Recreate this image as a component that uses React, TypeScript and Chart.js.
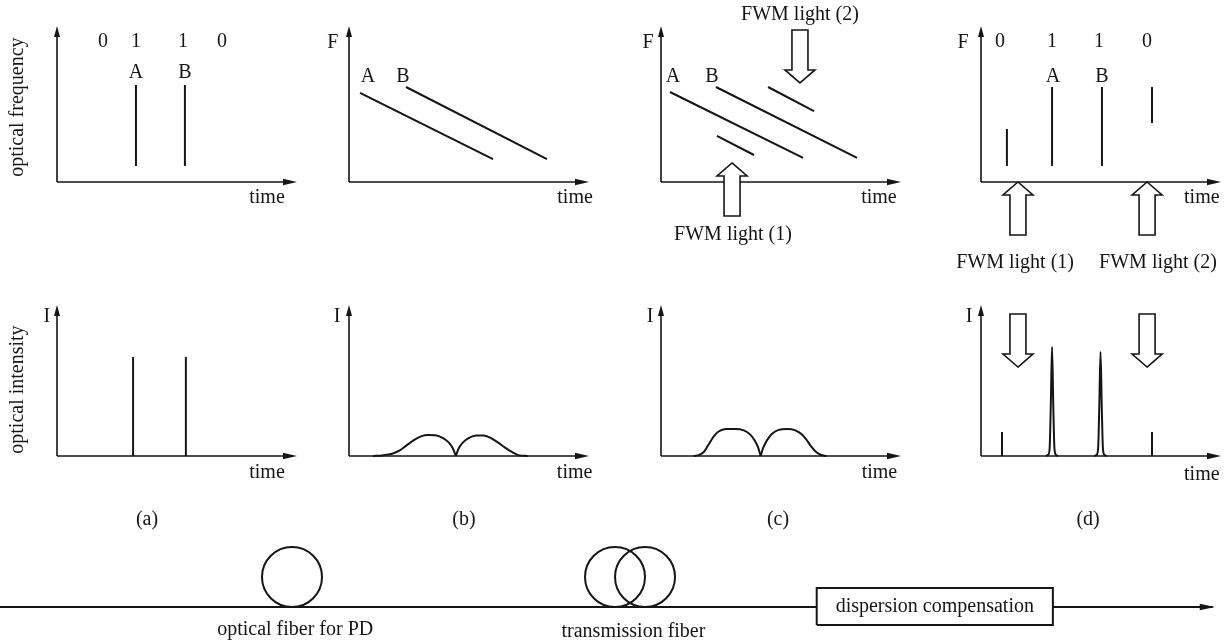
import React, { useEffect, useRef } from "react";
import { Chart, registerables } from "chart.js";
Chart.register(...registerables);

type Pt = { x: number; y: number };
type Seg = Pt[];

// ---------------- DATA (time 0..100, value 0..100 in each panel) ----------------
const BITS = ["0", "1", "1", "0"];
const PULSES = ["A", "B"];
const FWM_NAMES = ["FWM light (1)", "FWM light (2)"];
const AXIS_TIME = "time";
const AXIS_F = "F";
const AXIS_I = "I";
const ROW_TITLES = ["optical frequency", "optical intensity"];
const PANEL_TAGS = ["(a)", "(b)", "(c)", "(d)"];
const STAGES = ["optical fiber for PD", "transmission fiber", "dispersion compensation"];

// (a) input pulses
const FREQ_A: Seg[] = [
  [{ x: 32.9, y: 10.3 }, { x: 32.9, y: 62.2 }],
  [{ x: 53.3, y: 10.3 }, { x: 53.3, y: 62.2 }],
];
const INT_A: Seg[] = [
  [{ x: 31.7, y: 0 }, { x: 31.7, y: 65.6 }],
  [{ x: 53.7, y: 0 }, { x: 53.7, y: 65.6 }],
];
// (b) chirped pulses after PD fiber
const FREQ_B: Seg[] = [
  [{ x: 4.6, y: 57.1 }, { x: 60, y: 14.7 }],
  [{ x: 23.75, y: 60.9 }, { x: 82.5, y: 14.7 }],
];
const INT_B_LEFT: Seg = [
  { x: 10, y: 0 }, { x: 14, y: 0.4 }, { x: 18, y: 1.5 }, { x: 21, y: 3.5 }, { x: 24, y: 7 },
  { x: 27, y: 10.5 }, { x: 30, y: 13 }, { x: 33, y: 13.9 }, { x: 36, y: 13.7 }, { x: 39, y: 12 },
  { x: 41.5, y: 9 }, { x: 43.3, y: 5 }, { x: 44.5, y: 0 },
];
const INT_B_RIGHT: Seg = [
  { x: 44.5, y: 0 }, { x: 45.7, y: 5 }, { x: 47.5, y: 9 }, { x: 50, y: 12 }, { x: 53, y: 13.6 },
  { x: 56, y: 13.6 }, { x: 59, y: 12 }, { x: 62, y: 9 }, { x: 65, y: 5.5 }, { x: 68, y: 2.5 },
  { x: 70.5, y: 0.6 }, { x: 74.5, y: 0 },
];
// (c) after transmission fiber, with FWM light
const FREQ_C: Seg[] = [
  [{ x: 3.75, y: 57.7 }, { x: 59.2, y: 15.4 }],
  [{ x: 22.9, y: 60.9 }, { x: 81.7, y: 15.4 }],
];
const FREQ_C_FWM: Seg[] = [
  [{ x: 23.3, y: 29.5 }, { x: 38.75, y: 17.3 }],
  [{ x: 44.6, y: 60.9 }, { x: 63.75, y: 45.5 }],
];
const INT_C_LEFT: Seg = [
  { x: 13.5, y: 0 }, { x: 16, y: 0.8 }, { x: 18, y: 3 }, { x: 20, y: 8 }, { x: 22, y: 13 },
  { x: 24, y: 16.2 }, { x: 27, y: 17.8 }, { x: 31, y: 17.9 }, { x: 34.5, y: 17 }, { x: 37, y: 14.5 },
  { x: 39, y: 10.5 }, { x: 40.5, y: 5.5 }, { x: 41.5, y: 0 },
];
const INT_C_RIGHT: Seg = [
  { x: 41.5, y: 0 }, { x: 42.6, y: 5.5 }, { x: 44.2, y: 10.5 }, { x: 46.3, y: 14.8 }, { x: 49, y: 17.3 },
  { x: 52.5, y: 17.9 }, { x: 56, y: 17 }, { x: 58.5, y: 14.5 }, { x: 60.5, y: 11 }, { x: 62.5, y: 6.5 },
  { x: 64.5, y: 2.8 }, { x: 66.5, y: 0.8 }, { x: 69, y: 0 },
];
// (d) after dispersion compensation
const FREQ_D: Seg[] = [
  [{ x: 29.6, y: 10.3 }, { x: 29.6, y: 60.9 }],
  [{ x: 50.4, y: 10.3 }, { x: 50.4, y: 60.9 }],
];
const FREQ_D_FWM: Seg[] = [
  [{ x: 10.8, y: 10.3 }, { x: 10.8, y: 34 }],
  [{ x: 71.25, y: 37.8 }, { x: 71.25, y: 60.9 }],
];
const INT_D_PEAKS: Seg[] = [
  [
    { x: 27, y: 0 }, { x: 28, y: 0.8 }, { x: 28.6, y: 5 }, { x: 29.1, y: 35 }, { x: 29.6, y: 72.2 },
    { x: 30.1, y: 35 }, { x: 30.6, y: 5 }, { x: 31.2, y: 0.8 }, { x: 32.2, y: 0 },
  ],
  [
    { x: 47.2, y: 0 }, { x: 48.2, y: 0.8 }, { x: 48.8, y: 5 }, { x: 49.3, y: 34 }, { x: 49.8, y: 68.9 },
    { x: 50.3, y: 34 }, { x: 50.8, y: 5 }, { x: 51.4, y: 0.8 }, { x: 52.4, y: 0 },
  ],
];
const INT_D_FWM: Seg[] = [
  [{ x: 8.75, y: 0 }, { x: 8.75, y: 15.9 }],
  [{ x: 71.25, y: 0 }, { x: 71.25, y: 15.9 }],
];
// bottom fiber line (x 0..100 along the link, y = px above the line)
const FIBER_IN: Seg = [{ x: 0, y: 0 }, { x: 66.4, y: 0 }];
const FIBER_OUT: Seg = [{ x: 85.6, y: 0 }, { x: 98.6, y: 0 }];
const PD_COIL: Seg = [{ x: 23.74, y: 30 }];
const TX_COILS: Seg = [{ x: 50, y: 30 }, { x: 52.44, y: 30 }];
const DCF_BOX: Seg = [
  { x: 66.4, y: -18 }, { x: 85.6, y: -18 }, { x: 85.6, y: 19 }, { x: 66.4, y: 19 }, { x: 66.4, y: -18 },
];

// ---------------- LAYOUT ----------------
const INK = "#151515";
const FONT = '20px "Liberation Serif", "Times New Roman", serif';
const COLS = [
  { left: 0, w: 320, ox: 57 },
  { left: 320, w: 310, ox: 349 },
  { left: 630, w: 310, ox: 661 },
  { left: 940, w: 290, ox: 981 },
];
const ROWS = [
  { top: 0, h: 290, oy: 182, axisH: 156 },
  { top: 290, h: 250, oy: 456, axisH: 151 },
];
const AXIS_W = 240;

interface Txt { t: string; x: number; y: number; rot?: boolean }
interface HArrow { x: number; tip: number; up: boolean }
interface PanelSpec { col: number; row: number; lines: Seg[]; curves: Seg[]; texts: Txt[]; arrows: HArrow[] }

const PANELS: PanelSpec[] = [
  {
    col: 0, row: 0, lines: FREQ_A, curves: [], arrows: [],
    texts: [
      { t: BITS[0], x: 19.2, y: 89.7 }, { t: BITS[1], x: 32.9, y: 89.7 },
      { t: BITS[2], x: 52.5, y: 89.7 }, { t: BITS[3], x: 68.75, y: 89.7 },
      { t: PULSES[0], x: 32.9, y: 69.9 }, { t: PULSES[1], x: 53.3, y: 69.9 },
      { t: AXIS_TIME, x: 87.5, y: -10.3 },
      { t: ROW_TITLES[0], x: -16.25, y: 48, rot: true },
    ],
  },
  {
    col: 1, row: 0, lines: FREQ_B, curves: [], arrows: [],
    texts: [
      { t: AXIS_F, x: -6.7, y: 89.1 },
      { t: PULSES[0], x: 7.9, y: 67.3 }, { t: PULSES[1], x: 22.5, y: 67.3 },
      { t: AXIS_TIME, x: 94.2, y: -10.3 },
    ],
  },
  {
    col: 2, row: 0, lines: [...FREQ_C, ...FREQ_C_FWM], curves: [],
    arrows: [{ x: 29.6, tip: 12.2, up: true }, { x: 57.9, tip: 63.5, up: false }],
    texts: [
      { t: AXIS_F, x: -5.4, y: 89.1 },
      { t: PULSES[0], x: 5, y: 67.3 }, { t: PULSES[1], x: 21.25, y: 67.3 },
      { t: AXIS_TIME, x: 90.8, y: -10.3 },
      { t: FWM_NAMES[0], x: 30, y: -34 }, { t: FWM_NAMES[1], x: 57.9, y: 107 },
    ],
  },
  {
    col: 3, row: 0, lines: [...FREQ_D, ...FREQ_D_FWM], curves: [],
    arrows: [{ x: 15.4, tip: 0, up: true }, { x: 69.2, tip: 0, up: true }],
    texts: [
      { t: AXIS_F, x: -7.5, y: 89.1 },
      { t: BITS[0], x: 7.9, y: 89.7 }, { t: BITS[1], x: 29.6, y: 89.7 },
      { t: BITS[2], x: 49.2, y: 89.7 }, { t: BITS[3], x: 69.2, y: 89.7 },
      { t: PULSES[0], x: 30, y: 67.3 }, { t: PULSES[1], x: 50.4, y: 67.3 },
      { t: AXIS_TIME, x: 92, y: -10.3 },
      { t: FWM_NAMES[0], x: 14.2, y: -52 }, { t: FWM_NAMES[1], x: 73.75, y: -52 },
    ],
  },
  {
    col: 0, row: 1, lines: INT_A, curves: [], arrows: [],
    texts: [
      { t: AXIS_I, x: -4.2, y: 92 }, { t: AXIS_TIME, x: 87.5, y: -11.3 },
      { t: PANEL_TAGS[0], x: 37.5, y: -42.4 },
      { t: ROW_TITLES[1], x: -16.25, y: 44, rot: true },
    ],
  },
  {
    col: 1, row: 1, lines: [], curves: [INT_B_LEFT, INT_B_RIGHT], arrows: [],
    texts: [
      { t: AXIS_I, x: -5, y: 92 }, { t: AXIS_TIME, x: 94, y: -11.3 },
      { t: PANEL_TAGS[1], x: 47.9, y: -42.4 },
    ],
  },
  {
    col: 2, row: 1, lines: [], curves: [INT_C_LEFT, INT_C_RIGHT], arrows: [],
    texts: [
      { t: AXIS_I, x: -4.6, y: 92 }, { t: AXIS_TIME, x: 91, y: -11.3 },
      { t: PANEL_TAGS[2], x: 48.75, y: -42.4 },
    ],
  },
  {
    col: 3, row: 1, lines: INT_D_FWM, curves: INT_D_PEAKS,
    arrows: [{ x: 15.4, tip: 58.9, up: false }, { x: 69.2, tip: 58.9, up: false }],
    texts: [
      { t: AXIS_I, x: -5, y: 92 }, { t: AXIS_TIME, x: 92, y: -12.6 },
      { t: PANEL_TAGS[3], x: 44.6, y: -42.4 },
    ],
  },
];

function drawText(ctx: CanvasRenderingContext2D, t: string, x: number, y: number, rot?: boolean) {
  ctx.save();
  ctx.font = FONT;
  ctx.fillStyle = INK;
  ctx.textAlign = "center";
  ctx.textBaseline = "middle";
  ctx.translate(x, y);
  if (rot) ctx.rotate(-Math.PI / 2);
  ctx.fillText(t, 0, 0);
  ctx.restore();
}

function hollowArrow(ctx: CanvasRenderingContext2D, x: number, tip: number, up: boolean) {
  const headLen = 13, headHalf = 15, shaftHalf = 8, shaftLen = 40;
  const s = up ? 1 : -1;
  const base = tip + s * headLen;
  const end = base + s * shaftLen;
  ctx.save();
  ctx.beginPath();
  ctx.moveTo(x, tip);
  ctx.lineTo(x + headHalf, base);
  ctx.lineTo(x + shaftHalf, base);
  ctx.lineTo(x + shaftHalf, end);
  ctx.lineTo(x - shaftHalf, end);
  ctx.lineTo(x - shaftHalf, base);
  ctx.lineTo(x - headHalf, base);
  ctx.closePath();
  ctx.fillStyle = "#ffffff";
  ctx.fill();
  ctx.strokeStyle = INK;
  ctx.lineWidth = 1.6;
  ctx.lineJoin = "miter";
  ctx.stroke();
  ctx.restore();
}

function makeDeco(spec: PanelSpec) {
  return {
    id: "deco",
    beforeDatasetsDraw(chart: any) {
      const { ctx, chartArea: a } = chart;
      ctx.save();
      ctx.strokeStyle = INK;
      ctx.fillStyle = INK;
      ctx.lineWidth = 1.6;
      ctx.beginPath();
      ctx.moveTo(a.left, a.bottom);
      ctx.lineTo(a.left, a.top + 8);
      ctx.moveTo(a.left, a.bottom);
      ctx.lineTo(a.right - 10, a.bottom);
      ctx.stroke();
      ctx.beginPath();
      ctx.moveTo(a.left, a.top);
      ctx.lineTo(a.left + 3, a.top + 11);
      ctx.lineTo(a.left - 3, a.top + 11);
      ctx.closePath();
      ctx.fill();
      ctx.beginPath();
      ctx.moveTo(a.right, a.bottom);
      ctx.lineTo(a.right - 14, a.bottom - 3.2);
      ctx.lineTo(a.right - 14, a.bottom + 3.2);
      ctx.closePath();
      ctx.fill();
      ctx.restore();
    },
    afterDatasetsDraw(chart: any) {
      const { ctx, scales } = chart;
      const xs = scales.x, ys = scales.y;
      spec.arrows.forEach((ar) =>
        hollowArrow(ctx, xs.getPixelForValue(ar.x), ys.getPixelForValue(ar.tip), ar.up)
      );
      spec.texts.forEach((tx) =>
        drawText(ctx, tx.t, xs.getPixelForValue(tx.x), ys.getPixelForValue(tx.y), tx.rot)
      );
    },
  };
}

function lineSet(data: Seg, smooth: boolean) {
  return {
    data,
    showLine: true,
    borderColor: INK,
    borderWidth: 2,
    pointRadius: 0,
    fill: false,
    clip: false,
    tension: 0,
    cubicInterpolationMode: smooth ? "monotone" : "default",
    borderCapStyle: "butt",
  };
}

function makePanel(canvas: HTMLCanvasElement, spec: PanelSpec) {
  const col = COLS[spec.col];
  const row = ROWS[spec.row];
  const datasets = [
    ...spec.lines.map((s) => lineSet(s, false)),
    ...spec.curves.map((s) => lineSet(s, true)),
  ];
  return new Chart(canvas, {
    type: "scatter",
    data: { datasets } as any,
    options: {
      animation: false,
      responsive: false,
      devicePixelRatio: 1,
      events: [],
      layout: {
        autoPadding: false,
        padding: {
          left: col.ox - col.left,
          right: col.left + col.w - (col.ox + AXIS_W),
          top: row.oy - row.axisH - row.top,
          bottom: row.top + row.h - row.oy,
        },
      },
      scales: {
        x: { type: "linear", min: 0, max: 100, display: false },
        y: { type: "linear", min: 0, max: 100, display: false },
      },
      plugins: { legend: { display: false }, tooltip: { enabled: false } },
    } as any,
    plugins: [makeDeco(spec)],
  });
}

const STRIP = { left: 0, top: 540, w: 1230, h: 103 };

function makeStrip(canvas: HTMLCanvasElement) {
  const coil = (data: Seg) => ({
    data,
    showLine: false,
    pointRadius: 30,
    pointStyle: "circle",
    pointBorderWidth: 2,
    pointBorderColor: INK,
    pointBackgroundColor: "rgba(0,0,0,0)",
    clip: false,
  });
  const plugin = {
    id: "stripDeco",
    afterDatasetsDraw(chart: any) {
      const { ctx, scales } = chart;
      const xs = scales.x, ys = scales.y;
      const tipX = xs.getPixelForValue(FIBER_OUT[1].x);
      const y0 = ys.getPixelForValue(0);
      ctx.save();
      ctx.fillStyle = INK;
      ctx.beginPath();
      ctx.moveTo(tipX + 2, y0);
      ctx.lineTo(tipX - 13, y0 - 3.2);
      ctx.lineTo(tipX - 13, y0 + 3.2);
      ctx.closePath();
      ctx.fill();
      ctx.restore();
      drawText(ctx, STAGES[0], xs.getPixelForValue(24), ys.getPixelForValue(-23));
      drawText(ctx, STAGES[1], xs.getPixelForValue(51.5), ys.getPixelForValue(-25));
      drawText(ctx, STAGES[2], xs.getPixelForValue(76), ys.getPixelForValue(0.5));
    },
  };
  return new Chart(canvas, {
    type: "scatter",
    data: {
      datasets: [
        lineSet(FIBER_IN, false),
        lineSet(FIBER_OUT, false),
        lineSet(DCF_BOX, false),
        coil(PD_COIL),
        coil(TX_COILS),
      ],
    } as any,
    options: {
      animation: false,
      responsive: false,
      devicePixelRatio: 1,
      events: [],
      layout: { autoPadding: false, padding: 0 },
      scales: {
        x: { type: "linear", min: 0, max: 100, display: false },
        y: { type: "linear", min: -36, max: 67, display: false },
      },
      plugins: { legend: { display: false }, tooltip: { enabled: false } },
    } as any,
    plugins: [plugin],
  });
}

export default function App() {
  const refs = useRef<(HTMLCanvasElement | null)[]>([]);
  const stripRef = useRef<HTMLCanvasElement | null>(null);

  useEffect(() => {
    const charts: Chart[] = [];
    PANELS.forEach((spec, i) => {
      const c = refs.current[i];
      if (c) charts.push(makePanel(c, spec));
    });
    if (stripRef.current) charts.push(makeStrip(stripRef.current));
    return () => charts.forEach((c) => c.destroy());
  }, []);

  return (
    <div style={{ position: "absolute", left: 0, top: 0, width: 1230, height: 643, background: "#fff", overflow: "hidden" }}>
      {PANELS.map((spec, i) => {
        const col = COLS[spec.col];
        const row = ROWS[spec.row];
        return (
          <canvas
            key={i}
            ref={(el) => { refs.current[i] = el; }}
            width={col.w}
            height={row.h}
            style={{ position: "absolute", left: col.left, top: row.top, width: col.w, height: row.h }}
          />
        );
      })}
      <canvas
        ref={stripRef}
        width={STRIP.w}
        height={STRIP.h}
        style={{ position: "absolute", left: STRIP.left, top: STRIP.top, width: STRIP.w, height: STRIP.h }}
      />
    </div>
  );
}
